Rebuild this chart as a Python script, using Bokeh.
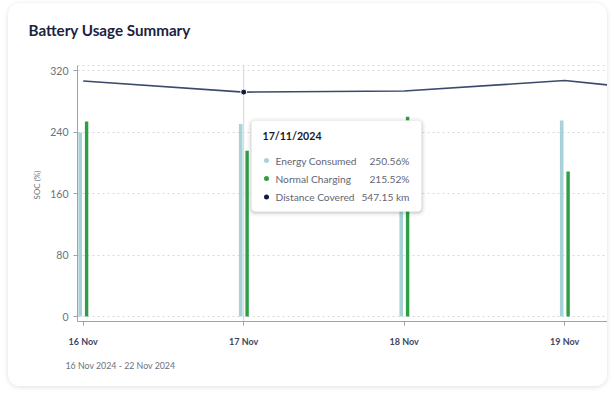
import pandas as pd
from bokeh.plotting import figure
from bokeh.models import (Range1d, FixedTicker, Span, Label, BoxAnnotation, Title,
                          DatetimeTickFormatter, ColumnDataSource)
from bokeh.transform import dodge
from bokeh.embed import file_html
from bokeh.resources import INLINE

# ---------------- data ----------------
bar_dates = ["2024-11-16", "2024-11-17", "2024-11-18", "2024-11-19"]
energy_consumed = [239.4, 250.56, 245.0, 255.0]
normal_charging = [253.7, 215.52, 260.0, 188.5]
line_dates = ["2024-11-16", "2024-11-17", "2024-11-18", "2024-11-19", "2024-11-20"]
distance_covered = [574.2, 547.15, 549.8, 575.4, 535.4]
tick_dates = ["2024-11-16", "2024-11-17", "2024-11-18", "2024-11-19",
              "2024-11-20", "2024-11-21", "2024-11-22"]
y_ticks = [0, 80, 160, 240, 320]
title_text = "Battery Usage Summary"
y_label = "SOC (%)"
date_range_text = "16 Nov 2024 - 22 Nov 2024"
hover_index = 1  # 17 Nov

# ---------------- styling ----------------
FONT = "Lato"
C_EC = "#a7d3d8"
C_NC = "#2e9e45"
C_LINE = "#3b4a6b"
C_DOT = "#0f1d40"
C_TITLE = "#1b2340"
C_TEXT = "#5f6673"

def ms(d):
    return pd.Timestamp(d).value / 1e6

DAY = 86400000.0
PX = DAY / 160.5              # ms per pixel on the x axis
FRAME_W = 530
x0 = ms(bar_dates[0]) - 5.7 * PX
x_rng = Range1d(x0, x0 + FRAME_W * PX)

# vertical layout (page px): frame from 48 to 321, visible plot area top at 65
FRAME_TOP, FRAME_BOT, PLOT_TOP = 48, 321, 65
Y_START, Y_PX = -6.5, 0.76875          # SOC units / pixel scale
KM_START, KM_PER_PX = -12.0, 624 / 256
frame_h = FRAME_BOT - FRAME_TOP
y_top = Y_START + (FRAME_BOT - PLOT_TOP) / Y_PX
y_rng = Range1d(Y_START, Y_START + frame_h / Y_PX)

CARD_X, CARD_Y = 8, 3
p = figure(width=599, height=383, x_axis_type="datetime",
           x_range=x_rng, y_range=y_rng,
           output_backend="svg", toolbar_location=None,
           min_border_left=69, min_border_right=0,
           min_border_top=FRAME_TOP - CARD_Y, min_border_bottom=65,
           background_fill_color="white", border_fill_color="white",
           outline_line_color=None,
           styles={"border-radius": "12px",
                   "box-shadow": "0 1px 5px rgba(0,0,0,0.13)",
                   "overflow": "hidden",
                   "position": "relative",
                   "left": f"{CARD_X}px", "top": f"{CARD_Y}px"})
p.extra_y_ranges = {"km": Range1d(KM_START, KM_START + frame_h * KM_PER_PX)}

# title and footer
p.title.text = title_text
p.title.align = "left"
p.title.offset = 28 - 77
p.title.text_font = FONT
p.title.text_font_size = "15.2px"
p.title.text_font_style = "bold"
p.title.text_color = C_TITLE
p.title.standoff = 19

footer = Title(text=date_range_text, align="left", offset=65 - 77,
               text_font=FONT, text_font_size="8.8px", text_font_style="normal",
               text_color="#6b717c", standoff=17)
p.add_layout(footer, "below")

# grid
p.xgrid.visible = False
p.ygrid.ticker = FixedTicker(ticks=y_ticks)
p.ygrid.grid_line_color = "#d6d9de"
p.ygrid.grid_line_dash = "2 3"
p.ygrid.grid_line_width = 1.2
p.add_layout(Span(location=y_top, dimension="width", line_color="#d6d9de",
                  line_dash="2 3", line_width=1.2))

# axes
ya = p.yaxis[0]
ya.ticker = FixedTicker(ticks=y_ticks)
ya.bounds = (Y_START, y_top)
ya.axis_line_color = "#9ea3ab"
ya.major_tick_line_color = "#9ea3ab"
ya.major_tick_out = 4
ya.major_tick_in = 0
ya.minor_tick_line_color = None
ya.major_label_text_font = FONT
ya.major_label_text_font_size = "10.5px"
ya.major_label_text_color = "#6b717c"
ya.major_label_standoff = 5
ya.axis_label = y_label
ya.axis_label_text_font = FONT
ya.axis_label_text_font_size = "8px"
ya.axis_label_text_font_style = "normal"
ya.axis_label_text_color = "#6b717c"
ya.axis_label_standoff = 5

xa = p.xaxis[0]
xa.ticker = FixedTicker(ticks=[ms(d) for d in tick_dates])
fmt = "%d %b"
xa.formatter = DatetimeTickFormatter(milliseconds=fmt, seconds=fmt, minsec=fmt,
                                     minutes=fmt, hourmin=fmt, hours=fmt,
                                     days=fmt, months=fmt, years=fmt)
xa.axis_line_color = "#9ea3ab"
xa.major_tick_line_color = "#9ea3ab"
xa.major_tick_out = 4
xa.major_tick_in = 0
xa.minor_tick_line_color = None
xa.major_label_text_font = FONT
xa.major_label_text_font_size = "9px"
xa.major_label_text_font_style = "bold"
xa.major_label_text_color = "#3e4760"
xa.major_label_standoff = 10

# crosshair at hovered date
hover_x = pd.Timestamp(bar_dates[hover_index])
p.segment(x0=[hover_x], y0=[Y_START], x1=[hover_x], y1=[y_top],
          line_color="#d4d6da", line_width=1, level="underlay")

# bars
bars = ColumnDataSource(dict(date=pd.to_datetime(bar_dates),
                             ec=energy_consumed, nc=normal_charging))
p.vbar(x=dodge("date", -3.0 * PX, range=x_rng), top="ec", bottom=0,
       width=3.6 * PX, source=bars, fill_color=C_EC, line_color=None)
p.vbar(x=dodge("date", 3.4 * PX, range=x_rng), top="nc", bottom=0,
       width=3.4 * PX, source=bars, fill_color=C_NC, line_color=None)

# distance line
lsrc = ColumnDataSource(dict(date=pd.to_datetime(line_dates), km=distance_covered))
p.line("date", "km", source=lsrc, y_range_name="km", line_color=C_LINE,
       line_width=1.6)
p.scatter([pd.Timestamp(line_dates[hover_index])], [distance_covered[hover_index]],
          y_range_name="km", size=6, fill_color=C_DOT, line_color="white",
          line_width=1)

# ---------------- tooltip (screen units relative to frame) ----------------
FL, FB = 77, FRAME_BOT
def sx(x):
    return x - FL
def sy(y):
    return FB - y

tl, tr, tt, tb = 251, 421, 120, 211
for grow, alpha in [(4, 0.03), (2, 0.05), (1, 0.07)]:
    p.add_layout(BoxAnnotation(left=sx(tl - grow), right=sx(tr + grow),
                               top=sy(tt - grow + 1), bottom=sy(tb + grow + 1),
                               left_units="screen", right_units="screen",
                               top_units="screen", bottom_units="screen",
                               fill_color="black", fill_alpha=alpha,
                               line_color=None, border_radius=4 + grow))
p.add_layout(BoxAnnotation(left=sx(tl), right=sx(tr), top=sy(tt), bottom=sy(tb),
                           left_units="screen", right_units="screen",
                           top_units="screen", bottom_units="screen",
                           fill_color="white", fill_alpha=1.0,
                           line_color="#eceef1", line_width=1, border_radius=4))

tip_date = hover_x.strftime("%d/%m/%Y")
p.add_layout(Label(x=sx(262), y=sy(135.5), x_units="screen", y_units="screen",
                   text=tip_date, text_font=FONT, text_font_size="10.6px",
                   text_font_style="bold", text_color="#141a2e",
                   text_baseline="middle"))
rows = [("Energy Consumed", f"{energy_consumed[hover_index]:.2f}%", C_EC),
        ("Normal Charging", f"{normal_charging[hover_index]:.2f}%", C_NC),
        ("Distance Covered", f"{distance_covered[hover_index]:.2f} km", C_DOT)]
row_y = [160, 178, 196.5]
for (name, val, col), yy in zip(rows, row_y):
    p.add_layout(BoxAnnotation(left=sx(263.5), right=sx(268.5),
                               top=sy(yy - 2.5), bottom=sy(yy + 2.5),
                               left_units="screen", right_units="screen",
                               top_units="screen", bottom_units="screen",
                               fill_color=col, fill_alpha=1.0, line_color=None,
                               border_radius=3))
    p.add_layout(Label(x=sx(275), y=sy(yy), x_units="screen", y_units="screen",
                       text=name, text_font=FONT, text_font_size="10.2px",
                       text_color=C_TEXT, text_baseline="middle"))
    p.add_layout(Label(x=sx(409), y=sy(yy), x_units="screen", y_units="screen",
                       text=val, text_font=FONT, text_font_size="10.2px",
                       text_color=C_TEXT, text_baseline="middle",
                       text_align="right"))

open("out.html", "w").write(file_html(p, INLINE))
